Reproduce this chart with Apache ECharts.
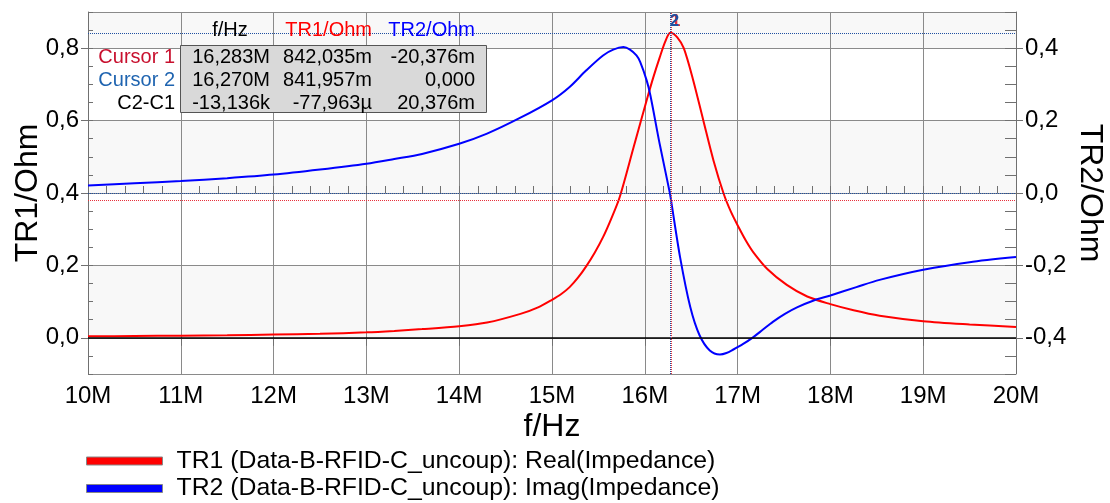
<!DOCTYPE html>
<html>
<head>
<meta charset="utf-8">
<script src="https://cdn.jsdelivr.net/npm/echarts@6/dist/echarts.min.js"></script>
<style>
  html, body { margin: 0; padding: 0; background: #ffffff; }
  #chart { width: 1110px; height: 503px; }
</style>
</head>
<body>
<div id="chart"></div>
<script>
// Real part of the impedance (TR1, left axis), frequency in MHz
const freqTR1 = [10.0, 10.5, 11.0, 11.5, 12.0, 12.5, 13.0, 13.3, 13.6, 14.0, 14.3, 14.66, 14.85, 15.0, 15.1, 15.19, 15.28, 15.37,
  15.46, 15.55, 15.64, 15.73, 15.88, 16.03, 16.09, 16.16, 16.22, 16.27, 16.283, 16.35, 16.42, 16.52, 16.63, 16.74, 16.85,
  16.93, 17.01, 17.09, 17.17, 17.32, 17.53, 17.75, 18.0, 18.25, 18.53, 19.0, 19.5, 20.0];
const realTR1 = [0.004, 0.005, 0.006, 0.007, 0.009, 0.011, 0.015, 0.019, 0.024, 0.032, 0.042, 0.066, 0.084, 0.105, 0.121, 0.140, 0.166, 0.198,
  0.235, 0.278, 0.330, 0.389, 0.527, 0.665, 0.718, 0.774, 0.818, 0.841957, 0.842035, 0.830, 0.800, 0.713, 0.601, 0.490, 0.398,
  0.347, 0.306, 0.268, 0.236, 0.190, 0.146, 0.114, 0.093, 0.076, 0.061, 0.046, 0.037, 0.030];

// Imaginary part of the impedance (TR2, right axis)
const freqTR2 = [10.0, 10.5, 11.0, 11.5, 12.0, 12.5, 13.0, 13.3, 13.6, 14.0, 14.3, 14.66, 15.0, 15.19, 15.37, 15.55,
  15.66, 15.77, 15.84, 15.91, 15.95, 16.02, 16.06, 16.16, 16.27, 16.283, 16.38, 16.49, 16.59, 16.70, 16.81, 16.88, 16.95,
  17.06, 17.17, 17.27, 17.38, 17.51, 17.64, 17.82, 18.0, 18.28, 18.53, 19.0, 19.5, 20.0];
const imagTR2 = [0.021, 0.027, 0.033, 0.041, 0.051, 0.065, 0.081, 0.094, 0.108, 0.136, 0.164, 0.208, 0.256, 0.293, 0.339, 0.380,
  0.396, 0.403, 0.396, 0.380, 0.362, 0.311, 0.270, 0.136, 0.000, -0.020376, -0.177, -0.315, -0.393, -0.435, -0.446, -0.442, -0.433,
  -0.417, -0.398, -0.378, -0.356, -0.334, -0.316, -0.297, -0.283, -0.260, -0.240, -0.212, -0.191, -0.177];

// Cursor readout
const cursorFreq = [16.283, 16.270];          // MHz, cursor 1 / cursor 2
const cursorTR1 = [0.842035, 0.841957];
const cursorTR2 = [-0.020376, 0.000];
const cursorRowNames = ['Cursor 1', 'Cursor 2', 'C2-C1'];
const cursorColF = ['16,283M', '16,270M', '-13,136k'];
const cursorColTR1 = ['842,035m', '841,957m', '-77,963\u00b5'];
const cursorColTR2 = ['-20,376m', '0,000', '20,376m'];
const cursorHeaders = ['f/Hz', 'TR1/Ohm', 'TR2/Ohm'];

const seriesNames = ['TR1 (Data-B-RFID-C_uncoup): Real(Impedance)', 'TR2 (Data-B-RFID-C_uncoup): Imag(Impedance)'];

const FONT = '"Liberation Sans", Arial, sans-serif';
const RED = '#ff0000', BLUE = '#0000ff';
const CUR1 = '#e8303c', CUR2 = '#1f4fa0';
const GRID = '#8a8a8a', AXIS = '#707070';

const fmtComma = v => v.toFixed(1).replace('.', ',');

const chart = echarts.init(document.getElementById('chart'), null, { renderer: 'canvas' });

const dottedLine = (color) => ({ color: color, type: 'dotted', width: 1 });

// Cursor readout table drawn on top of the plot
const tableGraphics = [];
tableGraphics.push({
  type: 'rect', z: 100,
  shape: { x: 180.5, y: 45.5, width: 306, height: 67 },
  style: { fill: '#d9d9d9', stroke: '#555555', lineWidth: 1 }
});
const headerX = [230, 372, 475];
const headerAlign = ['center', 'right', 'right'];
const headerColor = ['#000000', RED, BLUE];
cursorHeaders.forEach((t, i) => {
  tableGraphics.push({ type: 'text', z: 99, style: {
    text: t, x: headerX[i], y: 30, fill: headerColor[i], font: '20px ' + FONT,
    align: headerAlign[i], textAlign: headerAlign[i], verticalAlign: 'middle', textVerticalAlign: 'middle' } });
});
const rowY = [57.5, 80.5, 103];
const rowColor = ['#c8102e', '#1f64b0', '#000000'];
const colRight = [270, 372, 475];
const cols = [cursorColF, cursorColTR1, cursorColTR2];
cursorRowNames.forEach((name, r) => {
  tableGraphics.push({ type: 'text', z: 101, style: {
    text: name, x: 175, y: rowY[r], fill: rowColor[r], font: '20px ' + FONT,
    align: 'right', textAlign: 'right', verticalAlign: 'middle', textVerticalAlign: 'middle' } });
  cols.forEach((col, c) => {
    tableGraphics.push({ type: 'text', z: 101, style: {
      text: col[r], x: colRight[c], y: rowY[r], fill: '#000000', font: '20px ' + FONT,
      align: 'right', textAlign: 'right', verticalAlign: 'middle', textVerticalAlign: 'middle' } });
  });
});

const option = {
  animation: false,
  backgroundColor: '#ffffff',
  textStyle: { fontFamily: FONT },
  grid: { left: 88, right: 94, top: 12, bottom: 129, containLabel: false, outerBoundsMode: 'none' },
  legend: {
    show: true, left: 86, top: 448.5, orient: 'vertical', padding: 0,
    itemWidth: 76, itemHeight: 8, itemGap: 2.5, icon: 'rect', selectedMode: false,
    itemStyle: { borderColor: '#888888', borderWidth: 1 },
    textStyle: { fontSize: 24.8, lineHeight: 25, color: '#000000', fontFamily: FONT, padding: [0, 0, 0, 9] },
    data: seriesNames
  },
  xAxis: [
    {
      type: 'value', min: 10, max: 20, interval: 1,
      name: 'f/Hz', nameLocation: 'middle', nameGap: 37, nameMoveOverlap: false,
      nameTextStyle: { fontSize: 32, color: '#000000', fontFamily: FONT },
      axisLine: { show: true, lineStyle: { color: AXIS, width: 1 } },
      axisTick: { show: true, inside: false, length: 8, lineStyle: { color: AXIS } },
      axisLabel: { show: true, fontSize: 24, color: '#000000', margin: 10, fontFamily: FONT,
        formatter: v => Math.round(v) + 'M' },
      splitLine: { show: true, lineStyle: { color: GRID, width: 1 } }
    },
    {
      type: 'value', min: 10, max: 20, interval: 0.2, position: 'bottom',
      axisLine: { show: false }, axisLabel: { show: false }, splitLine: { show: false },
      axisTick: { show: true, inside: true, length: 7, lineStyle: { color: AXIS } }
    }
  ],
  yAxis: [
    {
      type: 'value', min: -0.1, max: 0.9, splitNumber: 5, position: 'left',
      name: 'TR1/Ohm', nameLocation: 'middle', nameGap: 44, nameRotate: 90, nameMoveOverlap: false,
      nameTextStyle: { fontSize: 32, color: '#000000', fontFamily: FONT },
      axisLine: { show: true, lineStyle: { color: AXIS, width: 1 } },
      axisTick: { show: true, inside: false, length: 7, lineStyle: { color: AXIS } },
      axisLabel: { show: true, fontSize: 24, color: '#000000', margin: 9, fontFamily: FONT,
        showMinLabel: false, showMaxLabel: false, formatter: fmtComma },
      splitLine: { show: true, lineStyle: { color: GRID, width: 1 } },
      splitArea: { show: true, areaStyle: { color: ['#ffffff', '#f8f8f8'] } }
    },
    {
      type: 'value', min: -0.5, max: 0.5, splitNumber: 5, position: 'right',
      name: 'TR2/Ohm', nameLocation: 'middle', nameGap: 58, nameRotate: -90, nameMoveOverlap: false,
      nameTextStyle: { fontSize: 32, color: '#000000', fontFamily: FONT },
      axisLine: { show: true, lineStyle: { color: AXIS, width: 1 } },
      axisTick: { show: true, inside: false, length: 7, lineStyle: { color: AXIS } },
      axisLabel: { show: true, fontSize: 24, color: '#000000', margin: 9, fontFamily: FONT,
        showMinLabel: false, showMaxLabel: false, formatter: fmtComma },
      splitLine: { show: false }
    },
    {
      type: 'value', min: -0.1, max: 0.9, interval: 0.05, position: 'left',
      axisLine: { show: false }, axisLabel: { show: false }, splitLine: { show: false },
      axisTick: { show: true, inside: true, length: 5, lineStyle: { color: AXIS } }
    },
    {
      type: 'value', min: -0.5, max: 0.5, interval: 0.05, position: 'right',
      axisLine: { show: false }, axisLabel: { show: false }, splitLine: { show: false },
      axisTick: { show: true, inside: true, length: 11, lineStyle: { color: AXIS } }
    }
  ],
  graphic: tableGraphics,
  series: [
    {
      name: seriesNames[0], type: 'line', xAxisIndex: 0, yAxisIndex: 0,
      data: freqTR1.map((f, i) => [f, realTR1[i]]),
      showSymbol: false, smooth: 0.3, color: RED,
      lineStyle: { color: RED, width: 2 }, z: 3,
      markLine: {
        silent: true, symbol: ['none', 'none'], label: { show: false }, animation: false,
        data: [
          { yAxis: 0, lineStyle: { color: '#000000', type: 'solid', width: 1.5 } },
          { xAxis: cursorFreq[0], lineStyle: dottedLine(CUR1) },
          { yAxis: cursorTR1[0], lineStyle: dottedLine(CUR1) },
          { xAxis: cursorFreq[1], lineStyle: dottedLine(CUR2) },
          { yAxis: cursorTR1[1], lineStyle: dottedLine(CUR2) }
        ]
      },
      markPoint: {
        silent: true, animation: false, symbolSize: 0,
        data: [{ coord: [cursorFreq[0], 0.873], value: 1,
          label: { show: true, formatter: '1', position: 'right', distance: 0, color: CUR1,
            fontSize: 17, fontWeight: 'bold', fontFamily: FONT } }]
      }
    },
    {
      name: seriesNames[1], type: 'line', xAxisIndex: 0, yAxisIndex: 1,
      data: freqTR2.map((f, i) => [f, imagTR2[i]]),
      showSymbol: false, smooth: 0.3, color: BLUE,
      lineStyle: { color: BLUE, width: 2 }, z: 4,
      markLine: {
        silent: true, symbol: ['none', 'none'], label: { show: false }, animation: false,
        data: [
          { yAxis: cursorTR2[0], lineStyle: dottedLine(CUR1) },
          { yAxis: cursorTR2[1], lineStyle: dottedLine(CUR2) }
        ]
      },
      markPoint: {
        silent: true, animation: false, symbolSize: 0,
        data: [{ coord: [cursorFreq[1], 0.473], value: 2,
          label: { show: true, formatter: '2', position: 'right', distance: 0, color: CUR2,
            fontSize: 17, fontWeight: 'bold', fontFamily: FONT } }]
      }
    }
  ]
};

chart.setOption(option);
</script>
</body>
</html>
